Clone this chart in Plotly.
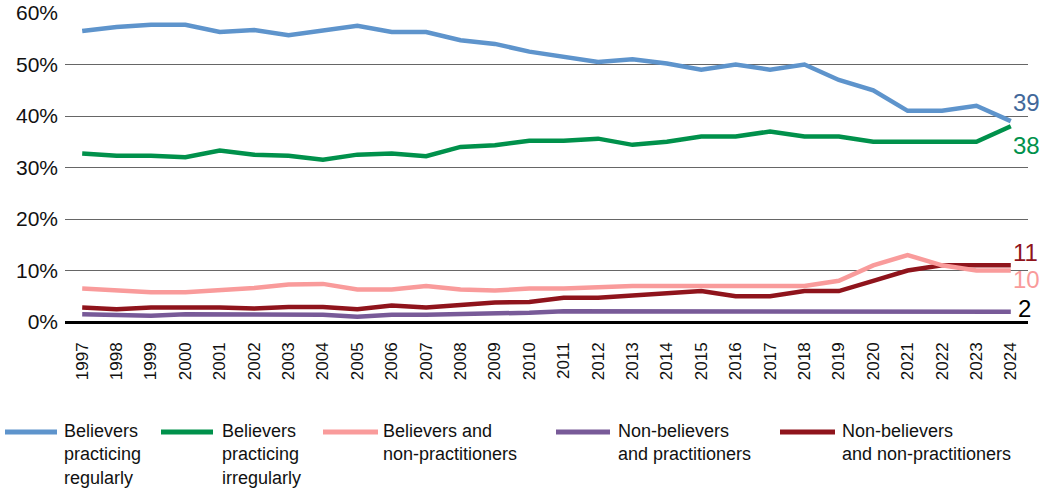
import plotly.graph_objects as go

# Survey years
years = [str(y) for y in range(1997, 2025)]

# Shares of the population (%) by belief / practice group
believers_regular = [56.5, 57.3, 57.7, 57.7, 56.3, 56.7, 55.7, 56.6, 57.5, 56.3,
                     56.3, 54.7, 54.0, 52.5, 51.5, 50.5, 51.0, 50.2, 49.0, 50.0,
                     49.0, 50.0, 47.0, 45.0, 41.0, 41.0, 42.0, 39.0]
believers_irregular = [32.7, 32.3, 32.3, 32.0, 33.3, 32.5, 32.3, 31.5, 32.5, 32.7,
                       32.2, 34.0, 34.3, 35.2, 35.2, 35.6, 34.4, 35.0, 36.0, 36.0,
                       37.0, 36.0, 36.0, 35.0, 35.0, 35.0, 35.0, 38.0]
believers_non_pract = [6.5, 6.2, 5.8, 5.8, 6.1, 6.6, 7.3, 7.4, 6.3, 6.3,
                       7.0, 6.3, 6.1, 6.5, 6.5, 6.8, 7.0, 7.0, 7.0, 7.0,
                       7.0, 7.0, 8.0, 11.0, 13.0, 11.0, 10.0, 10.0]
nonbelievers_pract = [1.5, 1.4, 1.2, 1.5, 1.5, 1.3, 1.5, 1.4, 1.0, 1.4,
                      1.4, 1.5, 1.6, 1.8, 2.1, 2.1, 2.2, 2.1, 2.0, 2.0,
                      2.0, 2.0, 2.0, 2.0, 2.0, 2.0, 2.0, 2.0]
nonbelievers_non_pract = [2.8, 2.5, 2.8, 2.9, 2.8, 2.6, 2.9, 2.9, 2.5, 3.2,
                          2.8, 3.3, 3.8, 3.9, 4.7, 4.7, 5.1, 5.6, 6.0, 5.0,
                          5.0, 6.0, 6.0, 8.0, 10.0, 11.0, 11.0, 11.0]

series_names = [
    "Believers<br>practicing<br>regularly",
    "Believers<br>practicing<br>irregularly",
    "Believers and<br>non-practitioners",
    "Non-believers<br>and practitioners",
    "Non-believers<br>and non-practitioners",
]
series_values = [believers_regular, believers_irregular, believers_non_pract,
                 nonbelievers_pract, nonbelievers_non_pract]
colors = ["#5E94CC", "#00914B", "#F99B9B", "#785A98", "#8F141C"]
label_colors = ["#42689A", "#00914B", "#F99B9B", "#000000", "#8F141C"]
# vertical / horizontal nudges for the end-of-line value labels (px)
label_yshift = [19, -19, -9, 3, 13]
label_xshift = [0, 0, 0, 5, 0]
# draw order: lower groups first so the main lines sit on top
draw_order = [3, 4, 2, 1, 0]

FONT = "Liberation Sans, Arial, sans-serif"

fig = go.Figure()
for i in draw_order:
    fig.add_trace(go.Scatter(
        x=years, y=series_values[i], mode="lines",
        line=dict(color=colors[i], width=4.5),
        name=series_names[i], showlegend=False, hoverinfo="skip",
    ))

# value labels at the end of each line (x given as the last category index)
last_idx = len(years) - 1
for i, vals in enumerate(series_values):
    fig.add_annotation(
        x=last_idx, y=vals[-1], xref="x", yref="y",
        text=f"{vals[-1]:.0f}", showarrow=False,
        xanchor="left", yanchor="middle",
        xshift=label_xshift[i], yshift=label_yshift[i],
        font=dict(family=FONT, size=24, color=label_colors[i]),
    )

# plot area geometry (px) used to place the legend below the axis
L, R, T, B = 65, 24, 13, 166
W, H = 1052, 488
pw, ph = W - L - R, H - T - B


def px_x(x):
    return (x - L) / pw


def px_y(y):
    return ((H - B) - y) / ph


legend_items = [(5, 57, 62), (161, 213, 220), (323, 378, 381),
                (556, 610, 616), (780, 835, 840)]
for i, (x0, x1, tx) in enumerate(legend_items):
    fig.add_shape(type="line", xref="paper", yref="paper",
                  x0=px_x(x0), x1=px_x(x1), y0=px_y(432), y1=px_y(432),
                  line=dict(color=colors[i], width=5))
    fig.add_annotation(
        x=px_x(tx), y=px_y(419), xref="paper", yref="paper",
        text=series_names[i], showarrow=False, align="left",
        xanchor="left", yanchor="top",
        font=dict(family=FONT, size=18, color="#111111"),
    )

fig.update_layout(
    width=W, height=H,
    margin=dict(l=L, r=R, t=T, b=B, autoexpand=False),
    paper_bgcolor="white", plot_bgcolor="white",
    font=dict(family=FONT, color="#111111"),
    showlegend=False,
)
fig.update_xaxes(
    type="category", range=[-0.5, len(years) - 0.5],
    tickangle=-90, tickfont=dict(size=17, color="#111111"),
    showgrid=False, ticks="", showline=False, zeroline=False,
    ticklabelstandoff=16, automargin=False,
)
fig.update_yaxes(
    range=[0, 60], dtick=10, ticksuffix="%",
    tickfont=dict(size=21, color="#111111"),
    showgrid=True, gridcolor="#666666", gridwidth=1,
    zeroline=True, zerolinecolor="#000000", zerolinewidth=2.5,
    ticks="", ticklabelstandoff=6, automargin=False,
)

fig.write_html("out.html")
